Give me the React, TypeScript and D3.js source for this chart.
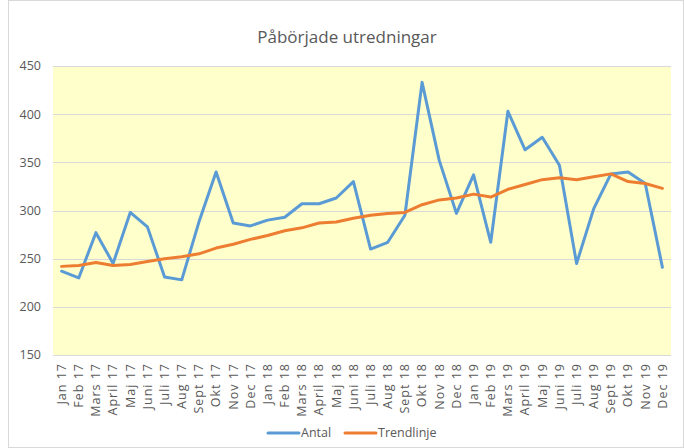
import { useEffect, useRef } from 'react';
import * as d3 from 'd3';

// Data
const months = [
    'Jan 17', 'Feb 17', 'Mars 17', 'April 17', 'Maj 17', 'Juni 17', 'Juli 17', 'Aug 17', 'Sept 17', 'Okt 17', 'Nov 17', 'Dec 17',
    'Jan 18', 'Feb 18', 'Mars 18', 'April 18', 'Maj 18', 'Juni 18', 'Juli 18', 'Aug 18', 'Sept 18', 'Okt 18', 'Nov 18', 'Dec 18',
    'Jan 19', 'Feb 19', 'Mars 19', 'April 19', 'Maj 19', 'Juni 19', 'Juli 19', 'Aug 19', 'Sept 19', 'Okt 19', 'Nov 19', 'Dec 19',
];

const antal = [
    237, 230, 277, 245, 298, 283, 231, 228, 288, 340, 287, 284,
    290, 293, 307, 307, 313, 330, 260, 267, 295, 433, 352, 297,
    337, 267, 403, 363, 376, 347, 245, 302, 338, 340, 328, 241,
];

const trendlinje = [
    242, 243, 246, 243, 244, 247, 250, 252, 255, 261, 265, 270,
    274, 279, 282, 287, 288, 292, 295, 297, 298, 306, 311, 313,
    317, 314, 322, 327, 332, 334, 332, 335, 338, 330, 328, 323,
];

const yTicks = [150, 200, 250, 300, 350, 400, 450];

const FONT = '"Open Sans", Lato, sans-serif';
const GREY = '#595959';

export default function App() {
    const ref = useRef<SVGSVGElement>(null);

    useEffect(() => {
        const svg = d3.select(ref.current);
        svg.selectAll('*').remove();

        const W = 684, H = 448;
        const plot = { left: 53, right: 671, top: 66, bottom: 355 };

        // chart border
        svg.append('rect')
            .attr('x', 8.5).attr('y', 0.5)
            .attr('width', W - 9).attr('height', H - 1)
            .attr('fill', '#fff').attr('stroke', '#D9D9D9');

        // plot background
        svg.append('rect')
            .attr('x', plot.left).attr('y', plot.top)
            .attr('width', plot.right - plot.left).attr('height', plot.bottom - plot.top)
            .attr('fill', '#FFFFCC');

        const x = d3.scaleBand().domain(months).range([plot.left, plot.right]);
        const y = d3.scaleLinear().domain([150, 450]).range([plot.bottom, plot.top]);

        // Gridlines
        svg.append('g')
            .selectAll('line')
            .data(yTicks)
            .join('line')
            .attr('x1', plot.left).attr('x2', plot.right)
            .attr('y1', d => Math.round(y(d)) + 0.5).attr('y2', d => Math.round(y(d)) + 0.5)
            .attr('stroke', '#D9D9D9').attr('stroke-width', 1);

        // Y labels
        svg.append('g')
            .selectAll('text')
            .data(yTicks)
            .join('text')
            .attr('x', 41).attr('y', d => y(d))
            .attr('dy', '0.35em')
            .attr('text-anchor', 'end')
            .attr('font-family', FONT).attr('font-size', 12.5).attr('fill', GREY)
            .text(d => d);

        // X labels
        svg.append('g')
            .selectAll('text')
            .data(months)
            .join('text')
            .attr('transform', d => `translate(${x(d)! + x.bandwidth() / 2}, 363) rotate(-90)`)
            .attr('dy', '0.35em')
            .attr('text-anchor', 'end')
            .attr('letter-spacing', 1)
            .attr('font-family', FONT).attr('font-size', 12.5).attr('fill', GREY)
            .text(d => d);

        const line = d3.line<number>()
            .x((_, i) => x(months[i])! + x.bandwidth() / 2)
            .y(d => y(d));

        svg.append('path')
            .datum(antal)
            .attr('d', line)
            .attr('fill', 'none').attr('stroke', '#5B9BD5')
            .attr('stroke-width', 3).attr('stroke-linejoin', 'round').attr('stroke-linecap', 'round');

        svg.append('path')
            .datum(trendlinje)
            .attr('d', line)
            .attr('fill', 'none').attr('stroke', '#ED7D31')
            .attr('stroke-width', 3).attr('stroke-linejoin', 'round').attr('stroke-linecap', 'round');

        // Title
        svg.append('text')
            .attr('x', 347).attr('y', 43)
            .attr('text-anchor', 'middle')
            .attr('font-family', FONT).attr('font-size', 17).attr('fill', GREY)
            .text('Påbörjade utredningar');

        // Legend
        const legend = [
            { name: 'Antal', color: '#5B9BD5', x: 268 },
            { name: 'Trendlinje', color: '#ED7D31', x: 345 },
        ];
        const lg = svg.append('g').selectAll('g').data(legend).join('g')
            .attr('transform', d => `translate(${d.x}, 433)`);
        lg.append('line')
            .attr('x1', 0).attr('x2', 31).attr('y1', 0).attr('y2', 0)
            .attr('stroke', d => d.color).attr('stroke-width', 3).attr('stroke-linecap', 'round');
        lg.append('text')
            .attr('x', 33).attr('dy', '0.35em')
            .attr('font-family', FONT).attr('font-size', 12.5).attr('fill', GREY)
            .text(d => d.name);
    }, []);

    return <svg ref={ref} width={684} height={448} style={{ position: 'absolute', left: 0, top: 0 }}></svg>
}
